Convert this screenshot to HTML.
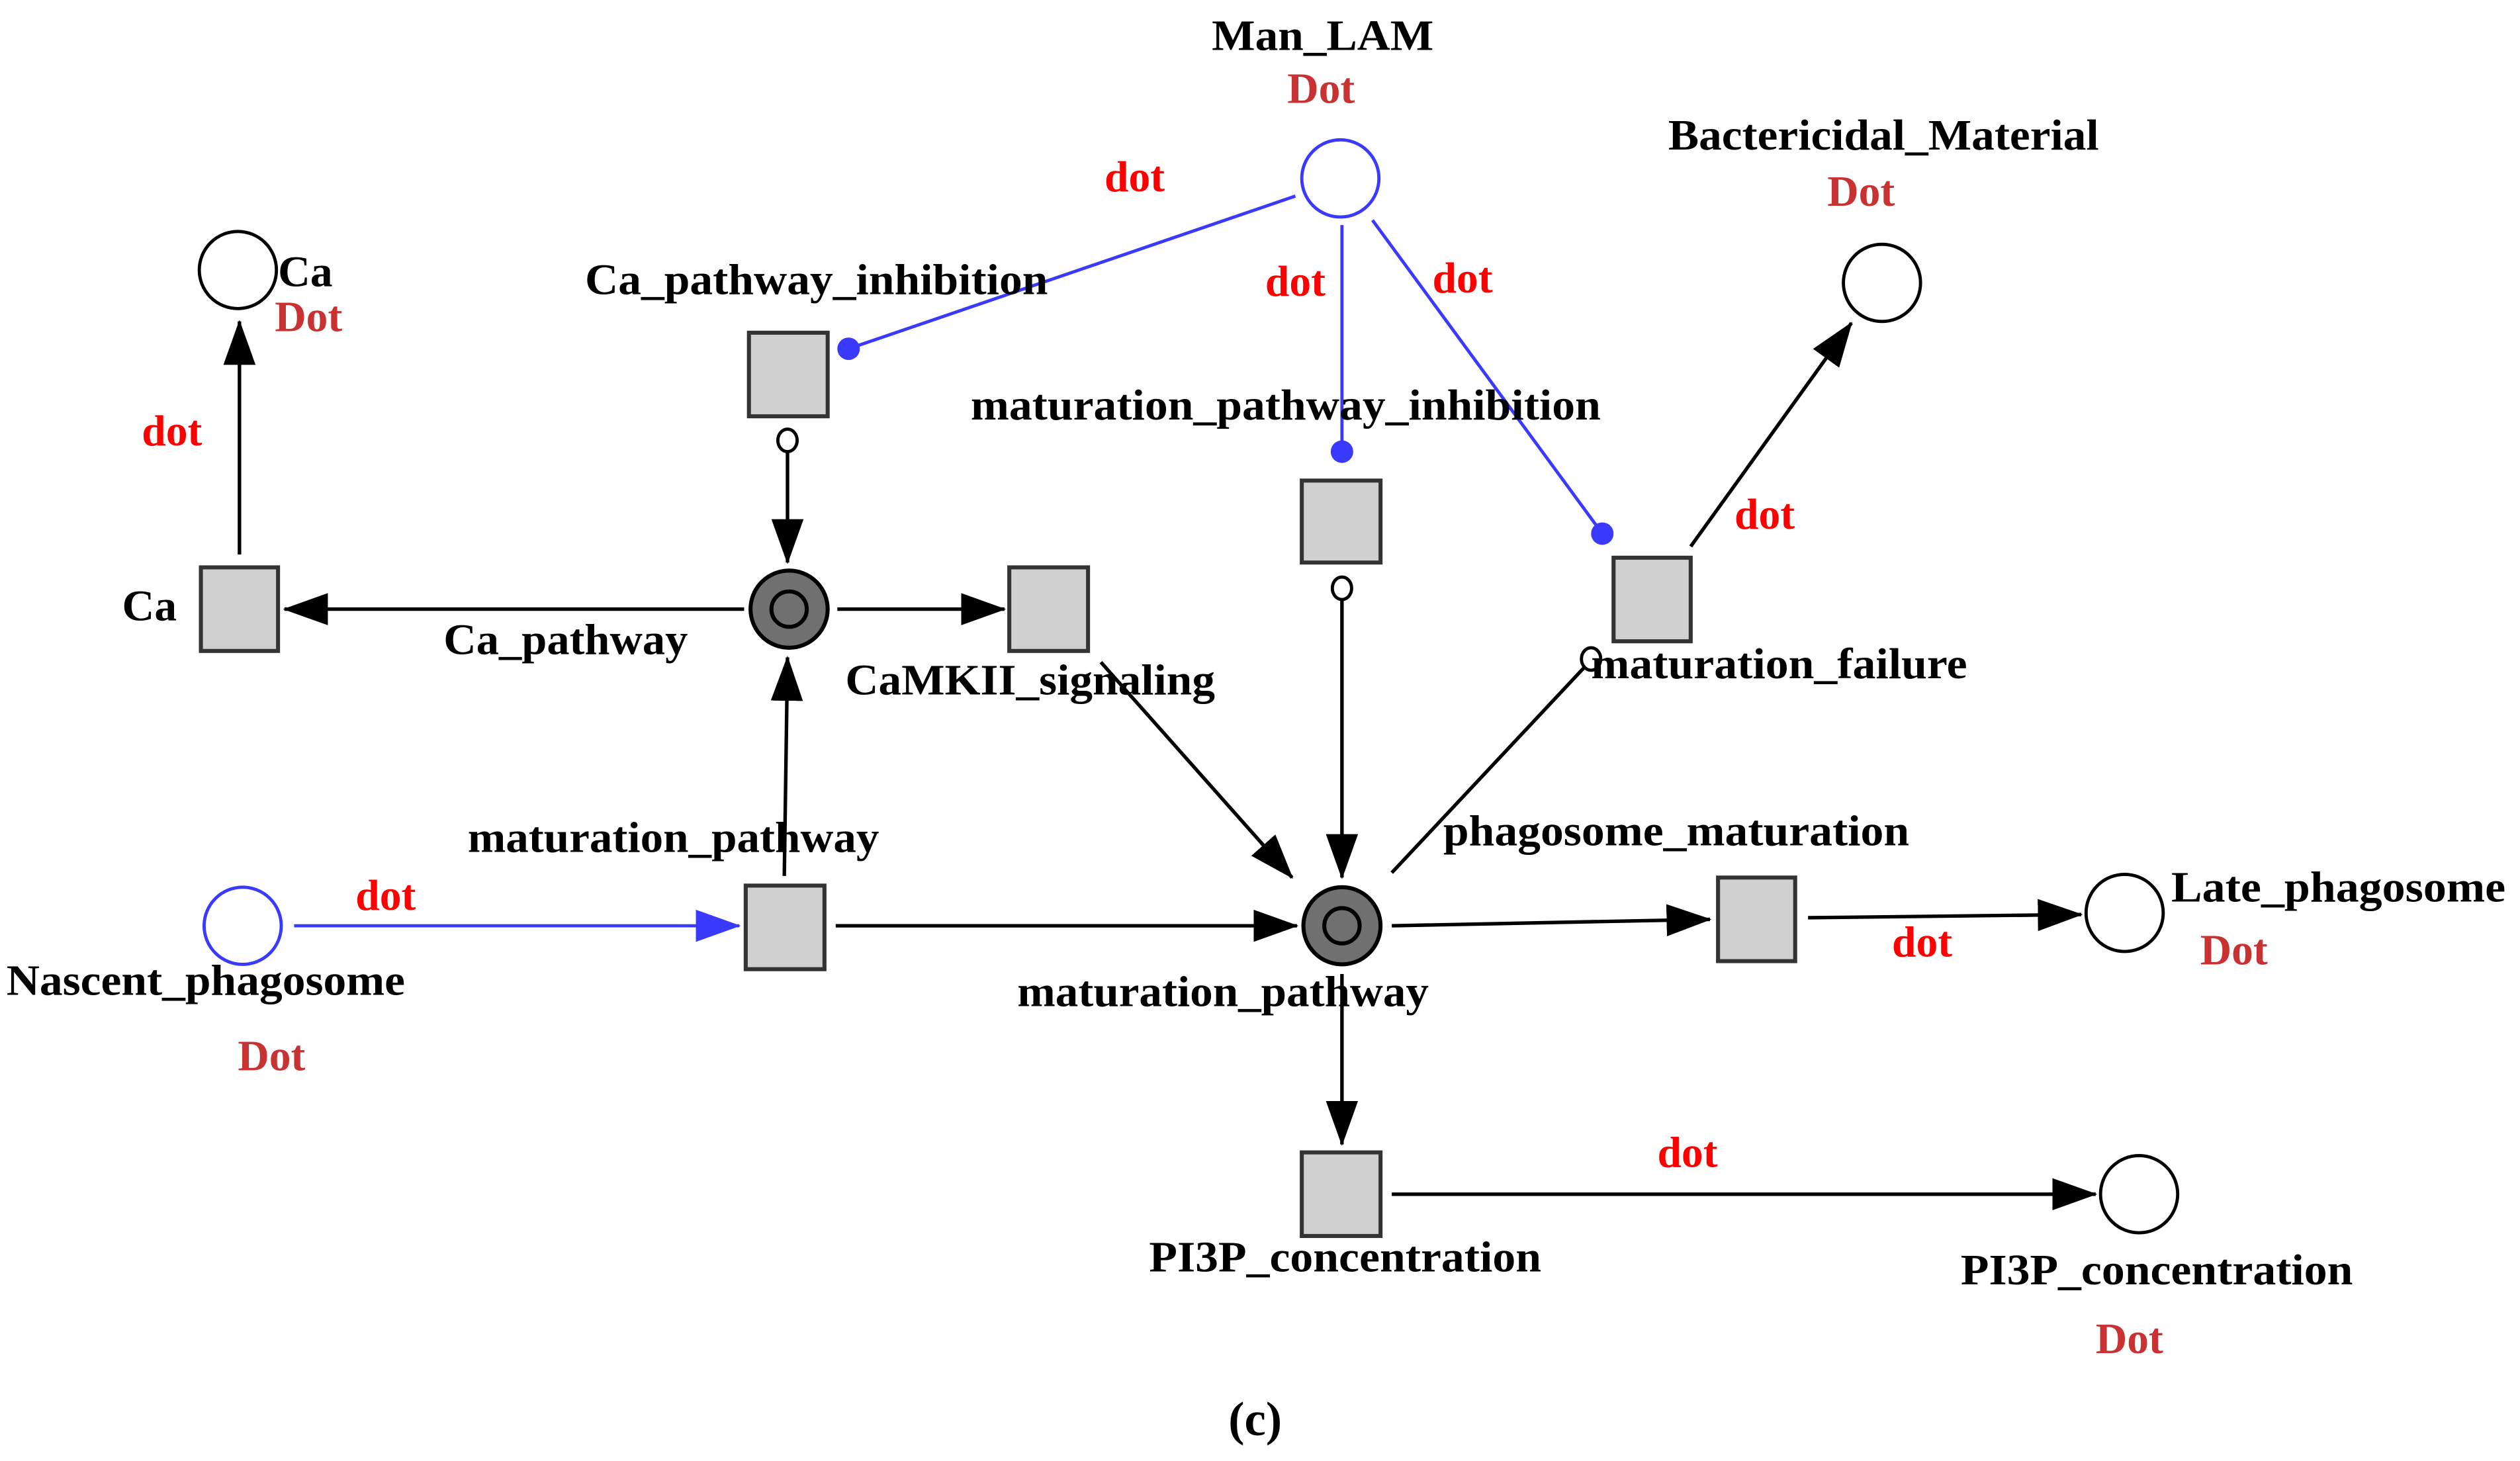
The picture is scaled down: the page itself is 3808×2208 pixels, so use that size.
<!DOCTYPE html>
<html><head><meta charset="utf-8"><style>html,body{margin:0;padding:0;background:#fff}svg{display:block}</style></head>
<body>
<svg width="3808" height="2208" viewBox="0 0 1568 909" preserveAspectRatio="none" xmlns="http://www.w3.org/2000/svg">
<defs>
<marker id="abk" markerWidth="28" markerHeight="20" refX="27" refY="10" orient="auto" markerUnits="userSpaceOnUse" viewBox="0 0 28 20"><path d="M0,0 L28,10 L0,20 Z" fill="#000"/></marker>
<marker id="abl" markerWidth="28" markerHeight="20" refX="27" refY="10" orient="auto" markerUnits="userSpaceOnUse" viewBox="0 0 28 20"><path d="M0,0 L28,10 L0,20 Z" fill="#3a3aff"/></marker>
</defs>
<g font-family="Liberation Serif, serif" font-size="27">
<g stroke="#3a3aff" stroke-width="2" fill="none">
<line x1="806" y1="122" x2="528" y2="217"/>
<line x1="835" y1="140" x2="835" y2="280"/>
<line x1="854" y1="137" x2="997" y2="332"/>
<line x1="183" y1="576" x2="460" y2="576" marker-end="url(#abl)"/>
</g>
<g fill="#3a3aff"><circle cx="528" cy="217" r="7"/><circle cx="835" cy="281" r="7"/><circle cx="997" cy="332" r="7"/></g>
<g stroke="#000" stroke-width="2.2" fill="none">
<line x1="490" y1="281" x2="490" y2="350" marker-end="url(#abk)"/>
<line x1="463" y1="379" x2="177" y2="379" marker-end="url(#abk)"/>
<line x1="521" y1="379" x2="625" y2="379" marker-end="url(#abk)"/>
<line x1="149" y1="345" x2="149" y2="200" marker-end="url(#abk)"/>
<line x1="488" y1="545" x2="490" y2="409" marker-end="url(#abk)"/>
<line x1="520" y1="576" x2="807" y2="576" marker-end="url(#abk)"/>
<line x1="685" y1="412" x2="804" y2="546" marker-end="url(#abk)"/>
<line x1="835" y1="373" x2="835" y2="546" marker-end="url(#abk)"/>
<line x1="866" y1="543" x2="986" y2="415"/>
<line x1="1052" y1="340" x2="1152" y2="201" marker-end="url(#abk)"/>
<line x1="866" y1="576" x2="1064" y2="572" marker-end="url(#abk)"/>
<line x1="1125" y1="571" x2="1295" y2="569" marker-end="url(#abk)"/>
<line x1="835" y1="606" x2="835" y2="712" marker-end="url(#abk)"/>
<line x1="866" y1="743" x2="1304" y2="743" marker-end="url(#abk)"/>
</g>
<g fill="#fff" stroke="#000" stroke-width="2"><ellipse cx="490" cy="274" rx="6" ry="7"/><ellipse cx="835" cy="366" rx="6" ry="7"/><ellipse cx="990" cy="410" rx="6" ry="7"/></g>
<g fill="#fff" stroke="#000" stroke-width="2">
<circle cx="148" cy="168" r="24"/><circle cx="1171" cy="176" r="24"/><circle cx="1322" cy="568" r="24"/><circle cx="1331" cy="743" r="24"/>
</g>
<g fill="#fff" stroke="#3a3aff" stroke-width="2"><circle cx="834" cy="111" r="24"/><circle cx="151" cy="576" r="24"/></g>
<g stroke="#000" stroke-width="2.5" fill="#707070"><circle cx="491" cy="379" r="24"/><circle cx="835" cy="576" r="24"/></g>
<g stroke="#000" stroke-width="2.5" fill="none"><circle cx="491" cy="379" r="11"/><circle cx="835" cy="576" r="11"/></g>
<g fill="#d0d0d0" stroke="#333" stroke-width="2.5">
<rect x="466" y="207" width="49" height="52"/><rect x="125" y="353" width="48" height="52"/><rect x="628" y="353" width="49" height="52"/>
<rect x="810" y="299" width="49" height="51"/><rect x="1004" y="347" width="48" height="52"/><rect x="464" y="551" width="49" height="52"/>
<rect x="1069" y="546" width="48" height="52"/><rect x="810" y="717" width="49" height="52"/>
</g>
<g fill="#000" font-weight="bold" text-anchor="middle">
<text x="823" y="31" textLength="138" lengthAdjust="spacingAndGlyphs">Man_LAM</text>
<text x="508" y="183" textLength="288" lengthAdjust="spacingAndGlyphs">Ca_pathway_inhibition</text>
<text x="190" y="178" textLength="34" lengthAdjust="spacingAndGlyphs">Ca</text>
<text x="1172" y="93" textLength="268" lengthAdjust="spacingAndGlyphs">Bactericidal_Material</text>
<text x="800" y="261" textLength="392" lengthAdjust="spacingAndGlyphs">maturation_pathway_inhibition</text>
<text x="93" y="386" textLength="34" lengthAdjust="spacingAndGlyphs">Ca</text>
<text x="352" y="407" textLength="152" lengthAdjust="spacingAndGlyphs">Ca_pathway</text>
<text x="641" y="432" textLength="230" lengthAdjust="spacingAndGlyphs">CaMKII_signaling</text>
<text x="1107" y="422" textLength="234" lengthAdjust="spacingAndGlyphs">maturation_failure</text>
<text x="419" y="530" textLength="256" lengthAdjust="spacingAndGlyphs">maturation_pathway</text>
<text x="1043" y="526" textLength="290" lengthAdjust="spacingAndGlyphs">phagosome_maturation</text>
<text x="1455" y="561" textLength="208" lengthAdjust="spacingAndGlyphs">Late_phagosome</text>
<text x="128" y="619" textLength="248" lengthAdjust="spacingAndGlyphs">Nascent_phagosome</text>
<text x="761" y="626" textLength="256" lengthAdjust="spacingAndGlyphs">maturation_pathway</text>
<text x="837" y="791" textLength="244" lengthAdjust="spacingAndGlyphs">PI3P_concentration</text>
<text x="1342" y="799" textLength="244" lengthAdjust="spacingAndGlyphs">PI3P_concentration</text>
<text x="781" y="893" font-size="30">(c)</text>
</g>
<g fill="#c83232" text-anchor="middle" font-weight="bold">
<text x="822" y="64">Dot</text><text x="192" y="206">Dot</text><text x="1158" y="128">Dot</text>
<text x="1390" y="600">Dot</text><text x="169" y="666">Dot</text><text x="1325" y="842">Dot</text>
</g>
<g fill="#ff0000" text-anchor="middle" font-weight="bold">
<text x="706" y="119">dot</text><text x="806" y="184">dot</text><text x="910" y="182">dot</text>
<text x="107" y="277">dot</text><text x="1098" y="329">dot</text><text x="240" y="566">dot</text>
<text x="1196" y="595">dot</text><text x="1050" y="726">dot</text>
</g>
</g>
</svg>
</body></html>
